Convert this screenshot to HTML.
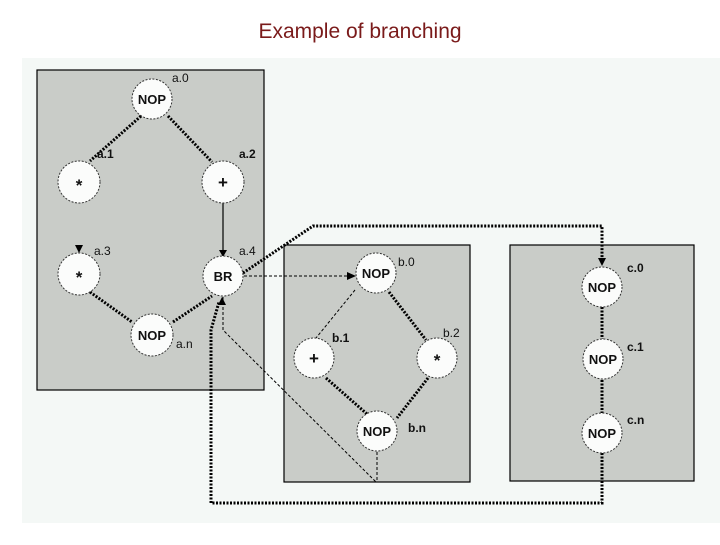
<!DOCTYPE html>
<html><head><style>
body{margin:0;background:#fff;width:720px;height:540px;overflow:hidden}
</style></head><body>
<svg width="720" height="540" xmlns="http://www.w3.org/2000/svg" font-family="Liberation Sans, sans-serif">
<text x="360" y="38" text-anchor="middle" font-size="21" fill="#7a1a1a">Example of branching</text>
<rect x="22" y="58" width="698" height="465" fill="#f4f8f6"/>
<g fill="#c9ccc8" stroke="#000" stroke-width="1.2">
<rect x="37" y="70" width="227" height="320"/>
<rect x="284" y="245" width="186" height="237"/>
<rect x="510" y="245" width="184" height="236"/>
</g>
<g stroke="#000" fill="none">
<g stroke-width="3" stroke-dasharray="2,1.5">
<line x1="141" y1="116" x2="90" y2="161"/>
<line x1="168" y1="116" x2="212" y2="162"/>
<line x1="90" y1="292" x2="132" y2="322"/>
<line x1="173" y1="322" x2="212" y2="296"/>
<line x1="389" y1="292" x2="426" y2="340"/>
<line x1="326" y1="378" x2="367" y2="414"/>
<line x1="428" y1="378" x2="397" y2="418"/>
<line x1="602" y1="307" x2="602" y2="339"/>
<line x1="602" y1="380" x2="602" y2="413"/>
<polyline points="243,273 313,226 602,226 602,262"/>
<polyline points="602,453 602,503 211,503 211,330 219,302"/>
</g>
<line x1="223" y1="202" x2="223" y2="250" stroke-width="1.2"/>
<g stroke-width="1" stroke-dasharray="3,2">
<line x1="244" y1="276" x2="350" y2="276"/>
<polyline points="223,297 223,330 376,482"/>
<line x1="377" y1="452" x2="377" y2="482"/>
<line x1="355" y1="290" x2="316" y2="338"/>
</g>
</g>
<g fill="#000">
<path d="M219,250 h8 l-4,7z"/><path d="M75,245 h8 l-4,8z"/><path d="M598,258 h8 l-4,8z"/>
<path d="M218,305 l4,-8 l4,8z"/><path d="M347,272 l9,4 l-9,4z"/>
</g>
<g fill="#fbfcfb" stroke="#333" stroke-width="1" stroke-dasharray="2,1.5">
<circle cx="152" cy="99" r="20"/><circle cx="79" cy="182" r="21"/><circle cx="223" cy="182" r="21"/>
<circle cx="79" cy="274" r="21"/><circle cx="223" cy="276" r="20"/><circle cx="152" cy="335" r="21"/>
<circle cx="376" cy="273" r="20"/><circle cx="314" cy="358" r="20"/><circle cx="437" cy="358" r="20"/>
<circle cx="377" cy="431" r="20"/>
<circle cx="602" cy="287" r="20"/><circle cx="603" cy="359" r="20"/><circle cx="602" cy="433" r="20"/>
</g>
<g font-size="13" font-weight="bold" text-anchor="middle" fill="#111">
<text x="152" y="104">NOP</text><text x="79" y="191" font-size="17">*</text><text x="223" y="188" font-size="17">+</text>
<text x="79" y="283" font-size="17">*</text><text x="223" y="281">BR</text><text x="152" y="340">NOP</text>
<text x="376" y="278">NOP</text><text x="314" y="364" font-size="17">+</text><text x="437" y="366" font-size="17">*</text>
<text x="377" y="436">NOP</text>
<text x="602" y="292">NOP</text><text x="603" y="364">NOP</text><text x="602" y="438">NOP</text>
</g>
<g font-size="12" fill="#111">
<text x="172" y="82">a.0</text><text x="97" y="158" font-weight="bold">a.1</text><text x="239" y="158" font-weight="bold">a.2</text>
<text x="94" y="255">a.3</text><text x="239" y="255">a.4</text><text x="176" y="348">a.n</text>
<text x="398" y="266">b.0</text><text x="332" y="342" font-weight="bold">b.1</text><text x="443" y="337">b.2</text>
<text x="408" y="432" font-weight="bold">b.n</text>
<text x="627" y="272" font-weight="bold">c.0</text><text x="627" y="351" font-weight="bold">c.1</text><text x="627" y="424" font-weight="bold">c.n</text>
</g>
</svg>
</body></html>
